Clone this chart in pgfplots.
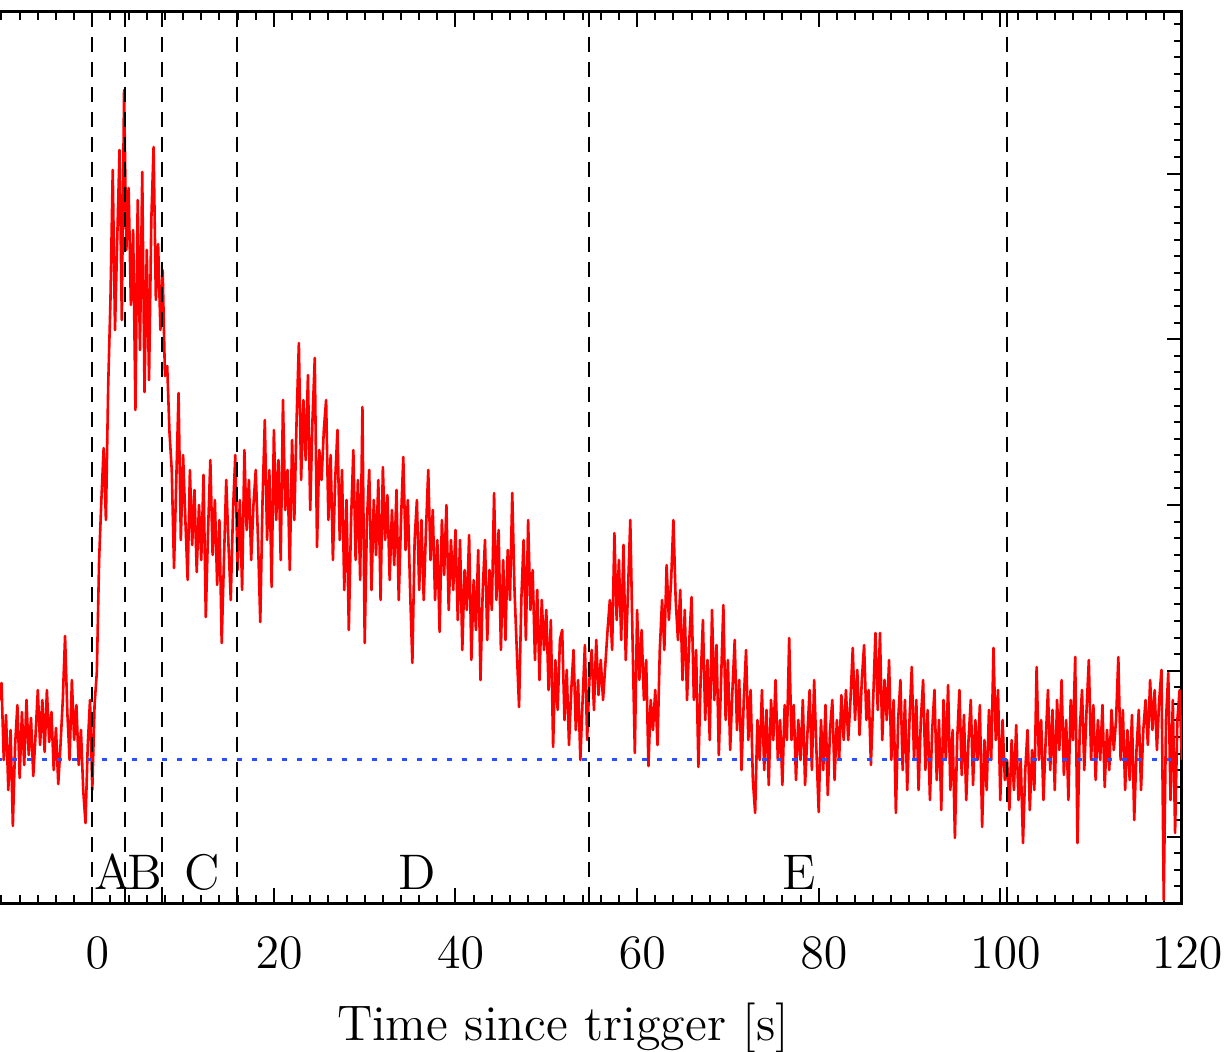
\documentclass[border=0pt]{standalone}
\usepackage{pgfplots}
\pgfplotsset{compat=1.18}
\definecolor{lcred}{rgb}{1,0,0}
\definecolor{bgblue}{RGB}{40,80,255}
\begin{document}
\begin{tikzpicture}
\begin{axis}[
  at={(0,0)}, anchor=south west,
  scale only axis, width=296.235pt, height=222.825pt,
  xmin=-10.5, xmax=120, ymin=11.7, ymax=903, y dir=reverse,
  xtick={0,20,...,120}, minor xtick={-10,-8,...,120},
  ytick={173.5,339.25,505,670.75,836.5}, minor ytick={24.325,40.9,...,903},
  yticklabels={}, ytick pos=right, xtick pos=both,
  tick align=inside,
  major tick length=3.75pt, minor tick length=2pt,
  every tick/.style={black, line width=0.5pt},
  axis line style={line width=0.75pt},
  xticklabel style={font=\fontsize{12.5}{15}\selectfont, anchor=base, yshift=-16.25pt, xshift=1.3pt},
  xlabel={Time since trigger [s]},
  xlabel style={at={(axis description cs:0.4777,-0.1537)}, anchor=base, font=\fontsize{12.5}{15}\selectfont},
]
\addplot[lcred, line width=0.65pt, line join=round] coordinates {
(-10.25,700)(-10,683)(-9.75,760)(-9.5,715)(-9.25,790)(-9,730)(-8.75,826)(-8.5,745)(-8.25,705)(-8,778)(-7.75,712)(-7.5,765)(-7.25,700)(-7,755)(-6.75,718)(-6.5,776)(-6.25,735)(-6,690)(-5.75,745)(-5.5,700)(-5.25,752)(-5,690)(-4.75,742)(-4.5,712)(-4.25,770)(-4,728)(-3.75,784)(-3.5,745)(-3.25,700)(-3,636)(-2.75,712)(-2.5,760)(-2.25,680)(-2,740)(-1.75,705)(-1.5,765)(-1.25,730)(-1,790)(-0.75,823)(-0.5,745)(-0.25,700)
(0,790)(0.25,705)(0.5,672)(0.75,560)(1,500)(1.25,448)(1.5,520)(1.75,386)(2,300)(2.25,170)(2.5,330)(2.75,238)(3,150)(3.25,320)(3.5,90)(3.75,250)(4,188)(4.25,305)(4.5,230)(4.75,410)(5,200)(5.25,350)(5.5,172)(5.75,392)(6,250)(6.25,380)(6.5,220)(6.75,147)(7,300)(7.25,244)(7.5,330)(7.75,270)(8,376)(8.25,366)(8.5,432)(8.75,470)(9,568)(9.25,480)(9.5,393)(9.75,540)(10,455)
(10.25,520)(10.5,580)(10.75,470)(11,545)(11.25,490)(11.5,572)(11.75,505)(12,560)(12.25,475)(12.5,617)(12.75,530)(13,460)(13.25,555)(13.5,500)(13.75,585)(14,520)(14.25,643)(14.5,560)(14.75,480)(15,545)
(15.25,600)(15.5,510)(15.75,455)(16,570)(16.25,500)(16.5,590)(16.75,450)(17,530)(17.25,480)(17.5,560)(17.75,505)(18,470)(18.25,540)(18.5,622)(18.75,500)(19,420)(19.25,540)(19.5,470)(19.75,587)(20,430)(20.25,520)(20.5,460)(20.75,560)(21,400)(21.25,510)(21.5,470)(21.75,570)(22,440)(22.25,520)(22.5,420)(22.75,343)(23,480)(23.25,400)(23.5,460)(23.75,375)(24,510)(24.25,420)(24.5,358)(24.75,547)(25,450)
(25.25,480)(25.5,430)(25.75,400)(26,520)(26.25,455)(26.5,560)(26.75,480)(27,430)(27.25,540)(27.5,470)(27.75,590)(28,500)(28.25,630)(28.5,520)(28.75,450)(29,560)(29.25,480)(29.5,580)(29.75,407)(30,643)
(30.25,520)(30.5,470)(30.75,590)(31,500)(31.25,555)(31.5,480)(31.75,600)(32,467)(32.25,540)(32.5,495)(32.75,580)(33,510)(33.25,565)(33.5,490)(33.75,600)(34,520)(34.25,457)(34.5,550)(34.75,500)(35,590)
(35.25,663)(35.5,540)(35.75,500)(36,590)(36.25,520)(36.5,600)(36.75,530)(37,470)(37.25,560)(37.5,510)(37.75,600)(38,540)(38.25,632)(38.5,520)(38.75,575)(39,505)(39.25,610)(39.5,540)(39.75,590)(40,530)
(40.25,620)(40.5,540)(40.75,650)(41,570)(41.25,610)(41.5,535)(41.75,660)(42,580)(42.25,630)(42.5,550)(42.75,680)(43,590)(43.25,540)(43.5,640)(43.75,570)(44,610)(44.25,493)(44.5,600)(44.75,530)(45,650)
(45.25,560)(45.5,640)(45.75,550)(46,600)(46.25,493)(46.5,590)(46.75,650)(47,707)(47.25,600)(47.5,540)(47.75,640)(48,520)(48.25,610)(48.5,570)(48.75,660)(49,590)(49.25,680)(49.5,600)(49.75,650)(50,610)
(50.25,690)(50.5,620)(50.75,747)(51,660)(51.25,710)(51.5,640)(51.75,630)(52,720)(52.25,670)(52.5,745)(52.75,690)(53,650)(53.25,730)(53.5,680)(53.75,760)(54,700)(54.25,645)(54.5,740)(54.75,680)
(55,650)(55.25,710)(55.5,640)(55.75,695)(56,660)(56.25,700)(56.5,665)(56.75,630)(57,600)(57.25,650)(57.5,533)(57.75,620)(58,560)(58.25,640)(58.5,545)(58.75,660)(59,590)(59.25,520)(59.5,640)(59.75,753)(60,610)(60.25,680)(60.5,630)
(60.75,700)(61,660)(61.25,766)(61.5,700)(61.75,730)(62,690)(62.25,745)(62.5,650)(62.75,600)(63,650)(63.25,565)(63.5,620)(63.75,580)(64,520)(64.25,600)(64.5,640)(64.75,590)(65,680)(65.25,610)(65.5,700)
(65.75,640)(66,597)(66.25,700)(66.5,650)(66.75,767)(67,680)(67.25,620)(67.5,720)(67.75,660)(68,740)(68.25,610)(68.5,700)(68.75,645)(69,755)(69.25,680)(69.5,605)(69.75,720)(70,660)(70.25,750)(70.5,690)
(70.75,640)(71,730)(71.25,680)(71.5,770)(71.75,700)(72,650)(72.25,740)(72.5,690)(72.75,780)(73,813)(73.25,720)(73.5,760)(73.75,690)(74,770)(74.25,710)(74.5,785)(74.75,700)(75,740)(75.25,680)(75.5,760)(75.75,720)(76,785)(76.25,705)(76.5,740)
(76.75,638)(77,740)(77.25,705)(77.5,780)(77.75,720)(78,760)(78.25,700)(78.5,785)(78.75,735)(79,690)(79.25,770)(79.5,680)(79.75,750)(80,812)(80.25,720)(80.5,770)(80.75,705)(81,795)(81.25,730)(81.5,700)(81.75,780)(82,720)(82.25,760)(82.5,695)(82.75,740)(83,690)
(83.25,740)(83.5,700)(83.75,648)(84,720)(84.25,670)(84.5,735)(84.75,680)(85,645)(85.25,720)(85.5,690)(85.75,765)(86,700)(86.25,633)(86.5,710)(86.75,633)(87,740)(87.25,680)(87.5,720)(87.75,660)(88,760)(88.25,700)(88.5,813)(88.75,720)(89,680)(89.25,770)(89.5,700)(89.75,790)(90,720)
(90.25,667)(90.5,760)(90.75,700)(91,790)(91.25,720)(91.5,680)(91.75,770)(92,710)(92.25,800)(92.5,730)(92.75,690)(93,780)(93.25,720)(93.5,810)(93.75,700)(94,760)(94.25,685)(94.5,790)(94.75,730)(95,838)(95.25,740)(95.5,690)(95.75,775)(96,715)(96.25,800)(96.5,740)(96.75,700)(97,785)(97.25,720)(97.5,760)(97.75,705)(98,827)(98.25,740)(98.5,790)(98.75,710)(99,760)(99.25,648)(99.5,740)(99.75,690)(100,800)(100.25,720)(100.5,780)
(100.75,760)(101,810)(101.25,740)(101.5,790)(101.75,725)(102,800)(102.25,760)(102.5,843)(102.75,770)(103,730)(103.25,810)(103.5,750)(103.75,790)(104,667)(104.25,760)(104.5,720)(104.75,800)(105,740)(105.25,690)(105.5,770)(105.75,710)(106,790)(106.25,700)(106.5,750)(106.75,680)(107,775)(107.25,720)(107.5,800)(107.75,700)(108,740)(108.25,657)(108.5,843)(108.75,730)(109,690)(109.25,770)(109.5,710)(109.75,660)(110,760)
(110.25,705)(110.5,780)(110.75,720)(111,760)(111.25,705)(111.5,787)(111.75,730)(112,770)(112.25,710)(112.5,750)(112.75,720)(113,657)(113.25,760)(113.5,710)(113.75,790)(114,730)(114.25,780)(114.5,715)(114.75,820)(115,750)(115.25,710)(115.5,790)(115.75,730)(116,700)(116.25,745)(116.5,680)(116.75,730)(117,690)(117.25,750)(117.5,700)(117.75,670)(118,900)(118.25,720)(118.5,673)(118.75,800)(119,700)(119.25,833)(119.5,720)(119.75,690)(120,760)
};
\addplot[bgblue, line width=0.75pt, dash pattern=on 1.25pt off 2.5pt] coordinates {(-10.5,759.5) (120,759.5)};
\foreach \t in {0,3.6,7.71,15.9,54.7,100.77}{
  \edef\tmp{\noexpand\addplot[black, line width=0.5pt, dash pattern=on 3.75pt off 2.5pt] coordinates {(\t,11.7) (\t,903)};}
  \tmp
}
\node[anchor=base, font=\fontsize{12.5}{15}\selectfont, inner sep=0pt] at (axis cs:2.22,889) {A};
\node[anchor=base, font=\fontsize{12.5}{15}\selectfont, inner sep=0pt] at (axis cs:5.8,889) {B};
\node[anchor=base, font=\fontsize{12.5}{15}\selectfont, inner sep=0pt] at (axis cs:12.1,889) {C};
\node[anchor=base, font=\fontsize{12.5}{15}\selectfont, inner sep=0pt] at (axis cs:35.8,889) {D};
\node[anchor=base, font=\fontsize{12.5}{15}\selectfont, inner sep=0pt] at (axis cs:77.9,889) {E};
\end{axis}
\pgfresetboundingbox
\path[use as bounding box] (0.76pt,-37.25pt) rectangle (307.01pt,225.75pt);
\end{tikzpicture}
\end{document}
